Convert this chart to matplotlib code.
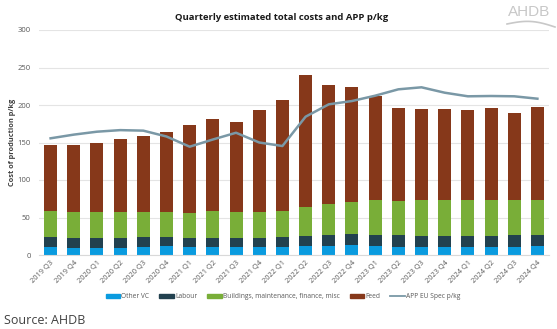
import matplotlib
matplotlib.use("Agg")
import matplotlib.pyplot as plt
import numpy as np
from matplotlib.lines import Line2D
from matplotlib.patches import Patch

quarters = ["2019 Q3", "2019 Q4", "2020 Q1", "2020 Q2", "2020 Q3", "2020 Q4",
            "2021 Q1", "2021 Q2", "2021 Q3", "2021 Q4", "2022 Q1", "2022 Q2",
            "2022 Q3", "2022 Q4", "2023 Q1", "2023 Q2", "2023 Q3", "2023 Q4",
            "2024 Q1", "2024 Q2", "2024 Q3", "2024 Q4"]

other_vc = [10.2, 10.0, 9.3, 10.0, 10.7, 11.5, 10.5, 10.5, 10.5, 11.0, 10.2, 12.0,
            12.4, 12.9, 11.5, 11.1, 10.7, 11.0, 11.0, 10.7, 11.0, 11.5]
labour = [13.4, 12.2, 13.2, 13.0, 13.7, 12.5, 12.0, 12.5, 12.5, 12.0, 13.4, 13.3,
          14.3, 14.7, 14.7, 15.1, 14.6, 14.8, 15.0, 14.6, 15.7, 15.2]
buildings = [35.1, 35.6, 35.3, 34.0, 33.6, 33.8, 33.5, 35.7, 35.0, 35.0, 35.4, 39.1,
             41.3, 42.6, 47.1, 45.8, 47.6, 47.2, 47.3, 48.0, 46.6, 46.3]
total_cost = [147, 146.5, 149, 155, 158, 164, 174, 182, 178, 193, 207, 240,
              227, 224, 212, 195.5, 195, 195, 194, 195.5, 189, 197.5]
app_eu_spec = [155.6, 160.5, 164.4, 166.5, 165.8, 158.0, 144.4, 154.0, 163.0, 150.0,
               145.3, 184.4, 200.9, 205.3, 212.4, 220.9, 223.6, 216.4, 211.6, 212.0,
               211.6, 208.4]

feed = [t - o - l - b for t, o, l, b in zip(total_cost, other_vc, labour, buildings)]

c_other = "#0A9BDF"
c_labour = "#22414F"
c_build = "#79AE38"
c_feed = "#86381A"
c_line = "#7A98A6"

plt.rcParams["font.family"] = ["Open Sans", "DejaVu Sans"]

W, H = 557, 329
fig = plt.figure(figsize=(W / 100, H / 100), dpi=100)
ax = fig.add_axes([39 / W, 1 - 255 / H, (549 - 39) / W, (255 - 30) / H])

x = np.arange(len(quarters))
bw = 0.56
b1 = np.array(other_vc)
b2 = b1 + np.array(labour)
b3 = b2 + np.array(buildings)
ax.bar(x, other_vc, bw, color=c_other, zorder=2)
ax.bar(x, labour, bw, bottom=b1, color=c_labour, zorder=2)
ax.bar(x, buildings, bw, bottom=b2, color=c_build, zorder=2)
ax.bar(x, feed, bw, bottom=b3, color=c_feed, zorder=2)
ax.plot(x, app_eu_spec, color=c_line, lw=1.8, zorder=3)

ax.set_xlim(-0.5, len(quarters) - 0.5)
ax.set_ylim(0, 300)
ax.set_yticks(np.arange(0, 301, 50))
ax.yaxis.grid(True, color="#E4E4E4", lw=0.8, zorder=0)
ax.set_axisbelow(True)
for s in ["top", "right", "left"]:
    ax.spines[s].set_visible(False)
ax.spines["bottom"].set_color("#D9D9D9")
ax.spines["bottom"].set_linewidth(0.8)
ax.tick_params(axis="y", length=0, labelsize=5.5, labelcolor="#595959", pad=6)
ax.tick_params(axis="x", length=0, labelsize=5.3, labelcolor="#595959", pad=3)
ax.set_xticks(x)
ax.set_xticklabels(quarters, rotation=45, ha="right", rotation_mode="anchor")

fig.text(13 / W, 1 - 142 / H, "Cost of production p/kg", rotation=90,
         ha="center", va="center", fontsize=5.3, color="#404040", fontweight="bold")

fig.text(282 / W, 1 - 17 / H, "Quarterly estimated total costs and APP p/kg",
         ha="center", va="center", fontsize=6.8, fontweight="bold", color="#1a1a1a")

handles = [Patch(color=c_other), Patch(color=c_labour), Patch(color=c_build),
           Patch(color=c_feed), Line2D([0], [0], color=c_line, lw=1.3)]
labels = ["Other VC", "Labour", "Buildings, maintenance, finance, misc", "Feed",
          "APP EU Spec p/kg"]
fig.legend(handles, labels, loc="center", bbox_to_anchor=(283 / W, 1 - 297 / H),
           ncol=5, frameon=False, fontsize=4.8, handlelength=2.2, handleheight=0.45,
           handletextpad=0.15, columnspacing=1.5, labelcolor="#595959",
           borderaxespad=0, borderpad=0)

fig.text(4 / W, 1 - 321 / H, "Source: AHDB", ha="left", va="center",
         fontsize=9, color="#404040")

# AHDB mark, top right
fig.text(529 / W, 1 - 12 / H, "AHDB", ha="center", va="center", fontsize=11,
         color="#C8C8C8", family=["Liberation Sans", "DejaVu Sans"])
t = np.linspace(0, 1, 50)
sx = (507 + 48 * t) / W
sy = 1 - (24 - 4 * np.sin(np.pi * t) + 3 * t) / H
fig.add_artist(Line2D(sx, sy, color="#C8C8C8", lw=1.2, transform=fig.transFigure))

fig.savefig("out.png", dpi=100, facecolor="white")
